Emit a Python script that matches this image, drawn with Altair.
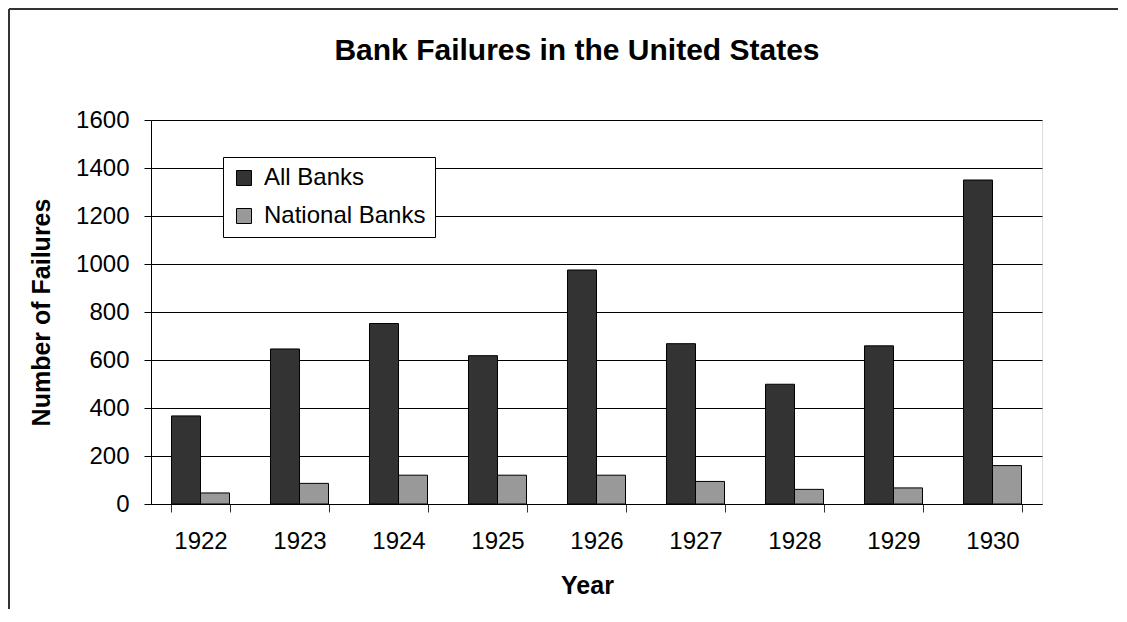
import altair as alt
import pandas as pd

years = ["1922", "1923", "1924", "1925", "1926", "1927", "1928", "1929", "1930"]
all_banks = [367, 646, 752, 618, 975, 668, 499, 659, 1350]
national_banks = [46, 86, 120, 120, 120, 94, 61, 67, 160]
series_names = ["All Banks", "National Banks"]
series_colors = ["#333333", "#999999"]
y_ticks = [0, 200, 400, 600, 800, 1000, 1200, 1400, 1600]
title_text = ["Bank Failures in the United States"]

rows = []
for i, yr in enumerate(years):
    rows.append({"Year": yr, "Series": series_names[0], "Failures": all_banks[i]})
    rows.append({"Year": yr, "Series": series_names[1], "Failures": national_banks[i]})
df = pd.DataFrame(rows)

FONT = "Liberation Sans"
W, H = 891, 384
PAD = {"left": 143, "top": 112, "right": 76, "bottom": 105}

bars = alt.Chart(df).mark_bar(stroke="black", strokeWidth=1).encode(
    x=alt.X(
        "Year:N",
        sort=years,
        scale=alt.Scale(paddingInner=0.414, paddingOuter=0.207),
        axis=alt.Axis(
            title="Year",
            labelAngle=0,
            labelFontSize=24,
            labelFont=FONT,
            labelColor="black",
            labelPadding=17,
            tickBand="extent",
            tickSize=8,
            tickColor="#333333",
            domainColor="black",
            titleFont=FONT,
            titleFontSize=25,
            titleFontWeight="bold",
            titleColor="black",
            titleX=436,
            titleY=81,
            titleBaseline="middle",
        ),
    ),
    xOffset=alt.XOffset("Series:N", sort=series_names,
                        scale=alt.Scale(paddingInner=0, paddingOuter=0)),
    y=alt.Y(
        "Failures:Q",
        scale=alt.Scale(domain=[0, 1600], nice=False),
        axis=alt.Axis(
            title="Number of Failures",
            values=y_ticks,
            format="d",
            labelFontSize=24,
            labelFont=FONT,
            labelColor="black",
            labelPadding=15,
            tickSize=7,
            tickColor="black",
            domainColor="black",
            gridColor="black",
            gridWidth=1,
            titleFont=FONT,
            titleFontSize=25,
            titleFontWeight="bold",
            titleColor="black",
            titleX=-110,
            titleY=192,
            titleAngle=270,
            titleAlign="center",
            titleBaseline="middle",
        ),
    ),
    color=alt.Color(
        "Series:N",
        sort=series_names,
        scale=alt.Scale(domain=series_names, range=series_colors),
        legend=alt.Legend(
            title=None,
            orient="none",
            legendX=72,
            legendY=37,
            symbolType="square",
            symbolSize=225,
            symbolStrokeColor="black",
            symbolStrokeWidth=1,
            symbolOpacity=1,
            labelFont=FONT,
            labelFontSize=24,
            labelColor="black",
            labelLimit=400,
            labelOffset=8,
            rowPadding=14,
            padding=9,
            fillColor="white",
            strokeColor="black",
        ),
    ),
)

frame = alt.Chart(pd.DataFrame({"a": [0]}))
border_left = frame.mark_rule(color="#333333", strokeWidth=2).encode(
    x=alt.value(-PAD["left"] + 1), y=alt.value(-PAD["top"] + 1), y2=alt.value(H + PAD["bottom"])
)
border_top = frame.mark_rule(color="#333333", strokeWidth=2).encode(
    y=alt.value(-PAD["top"] + 1), x=alt.value(-PAD["left"] + 1), x2=alt.value(W + PAD["right"])
)

title = alt.Chart(pd.DataFrame({"t": title_text})).mark_text(
    font=FONT, fontSize=30, fontWeight="bold", color="black",
    align="center", baseline="middle",
).encode(text="t:N", x=alt.value(426), y=alt.value(-69))

chart = alt.layer(bars, border_left, border_top, title).properties(
    width=W,
    height=H,
    padding=PAD,
    autosize="none",
).configure_view(stroke="#808080", strokeWidth=1).configure(background="white")

chart.save("out.html", embed_options={"renderer": "svg", "actions": False})
